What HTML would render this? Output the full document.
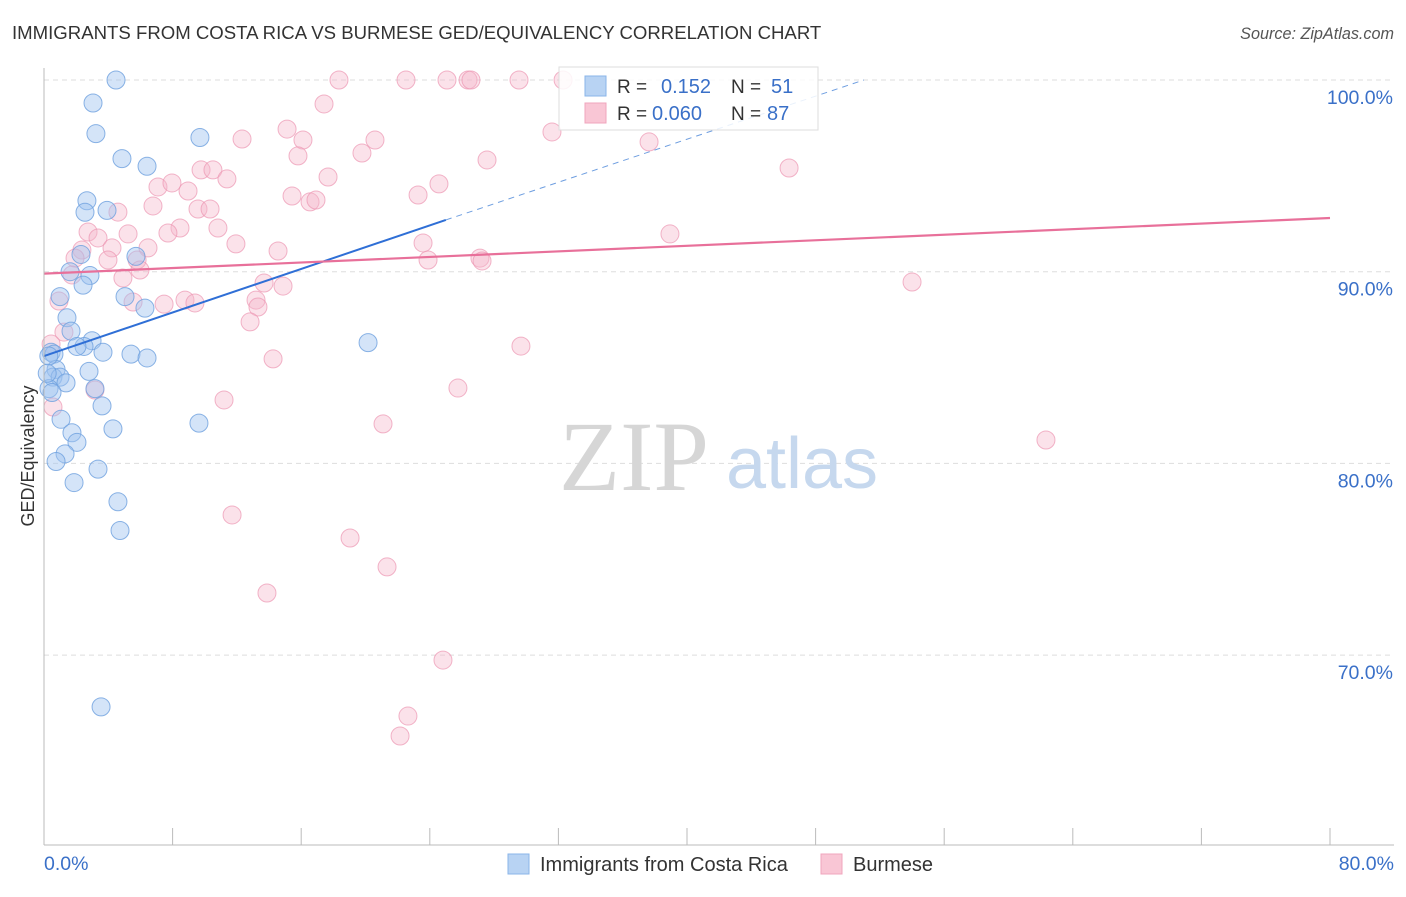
<!DOCTYPE html>
<html><head><meta charset="utf-8"><style>
body{margin:0;background:#fff;font-family:"Liberation Sans",sans-serif;}
svg text{font-family:"Liberation Sans",sans-serif;}
</style></head><body>
<svg id="chart" width="1406" height="892" xmlns="http://www.w3.org/2000/svg">
<text x="12" y="39" font-size="18.6" fill="#333">IMMIGRANTS FROM COSTA RICA VS BURMESE GED/EQUIVALENCY CORRELATION CHART</text>
<text x="1394" y="39" font-size="16.2" fill="#555" font-style="italic" text-anchor="end">Source: ZipAtlas.com</text>
<g id="grid"></g>
<text x="634" y="490" font-size="100" fill="#d6d6d6" style="font-family:'Liberation Serif',serif" text-anchor="middle">ZIP</text>
<text x="802" y="488" font-size="72" fill="#c6d8ee" text-anchor="middle">atlas</text>
<g id="pts"></g>
<g id="lines"></g>
<g id="axes"></g>
<text transform="translate(34,456) rotate(-90)" font-size="18" fill="#333" text-anchor="middle">GED/Equivalency</text>
<g>
<rect x="559" y="67" width="259" height="63" fill="rgba(255,255,255,0.85)" stroke="#ddd"/>
<rect x="585" y="76" width="21" height="20" fill="#b8d3f3" stroke="#8ab4e8"/>
<rect x="585" y="103" width="21" height="20" fill="#f9c6d5" stroke="#f0a5bd"/>
<text x="617" y="93" font-size="19" fill="#333">R = </text><text x="661" y="93" font-size="20" fill="#3a70c8">0.152</text>
<text x="731" y="93" font-size="19" fill="#333">N = </text><text x="771" y="93" font-size="20" fill="#3a70c8">51</text>
<text x="617" y="120" font-size="19" fill="#333">R = </text><text x="652" y="120" font-size="20" fill="#3a70c8">0.060</text>
<text x="731" y="120" font-size="19" fill="#333">N = </text><text x="767" y="120" font-size="20" fill="#3a70c8">87</text>
</g>
<g>
<rect x="508" y="854" width="21" height="20" fill="#b8d3f3" stroke="#8ab4e8"/>
<text x="540" y="871" font-size="20" fill="#333">Immigrants from Costa Rica</text>
<rect x="821" y="854" width="21" height="20" fill="#f9c6d5" stroke="#f0a5bd"/>
<text x="853" y="871" font-size="20" fill="#333">Burmese</text>
</g>
</svg>
<script>
const xTicks=[0,8,16,24,32,40,48,56,64,72,80];
const yTicks=[70,80,90,100];
const blueX=[4.48,3.05,3.23,9.70,4.85,6.41,2.67,2.55,3.92,5.72,2.30,1.62,2.86,2.43,1.00,5.04,6.28,1.43,1.68,2.99,2.49,2.05,3.67,5.41,6.41,0.44,0.62,0.75,2.80,0.56,1.00,1.37,0.31,20.16,3.17,3.61,1.06,4.29,1.74,2.05,1.31,0.75,3.36,1.87,4.60,4.73,9.64,3.55,0.3,0.2,0.5];
const blueY=[100.0,98.8,97.2,97.0,95.9,95.5,93.7,93.1,93.2,90.8,90.9,90.0,89.8,89.3,88.7,88.7,88.1,87.6,86.9,86.4,86.1,86.1,85.8,85.7,85.5,85.8,85.7,84.9,84.8,84.5,84.5,84.2,83.9,86.3,83.9,83.0,82.3,81.8,81.6,81.1,80.5,80.1,79.7,79.0,78.0,76.5,82.1,67.3,85.6,84.7,83.7];
const pinkX=[18.35,22.52,25.07,26.38,26.56,29.55,32.29,17.42,15.12,12.32,16.11,20.59,31.60,37.64,15.80,19.78,27.56,46.35,7.09,7.96,8.96,9.77,10.51,11.38,17.67,24.57,15.43,16.55,16.92,23.27,6.78,9.58,10.33,4.60,8.46,10.82,7.71,2.74,5.23,3.36,2.36,6.47,11.94,4.23,14.56,23.58,38.94,1.93,3.98,5.79,1.74,4.91,13.69,14.87,5.97,23.89,27.12,27.25,54.00,0.93,5.54,7.47,8.77,9.39,13.19,13.31,12.82,1.24,0.44,29.67,14.25,3.17,25.75,11.20,0.56,21.09,62.33,11.70,19.04,21.34,13.87,24.82,22.64,22.15];
const pinkY=[100,100,100,100,100,100,100,98.75,97.44,96.92,96.87,96.87,97.29,96.77,96.04,96.19,95.83,95.41,94.42,94.63,94.21,95.31,95.31,94.84,94.94,94.58,93.95,93.64,93.74,94.00,93.43,93.27,93.27,93.11,92.28,92.28,92.02,92.07,91.97,91.76,91.13,91.24,91.45,91.24,91.08,91.50,91.97,90.71,90.61,90.61,89.83,89.67,89.41,89.25,90.09,90.61,90.71,90.56,89.46,88.47,88.42,88.31,88.52,88.37,88.52,88.16,87.38,86.85,86.23,86.12,85.45,83.83,83.93,83.31,82.94,82.06,81.22,77.31,76.11,74.60,73.24,69.74,66.82,65.78];
const blueTrend=[[0,85.6],[25,92.7]];
const blueTrendDash=[[25,92.7],[51,100]];
const pinkTrend=[[0,89.9],[80,92.8]];
const X=v=>44+v*16.075;
const Y=v=>80+(100-v)*19.17;
const NS="http://www.w3.org/2000/svg";
function mk(tag,attrs,parent){const e=document.createElementNS(NS,tag);for(const k in attrs)e.setAttribute(k,attrs[k]);document.getElementById(parent).appendChild(e);return e;}
yTicks.forEach(t=>{
  const l=mk('line',{x1:44,x2:1394,y1:Y(t),y2:Y(t),stroke:'#ddd','stroke-dasharray':'5,4'},'grid');
  
  
  const tx=mk('text',{x:1393,y:Y(t)+24,'font-size':19.5,fill:'#3a70c8','text-anchor':'end'},'axes');
  tx.textContent=t.toFixed(1)+'%';
  
  
});
const ax=mk('line',{x1:44,x2:44,y1:68,y2:845,stroke:'#bbb'},'axes');


const bx=mk('line',{x1:44,x2:1394,y1:845,y2:845,stroke:'#bbb'},'axes');


xTicks.forEach(t=>{
  const l=mk('line',{x1:X(t),x2:X(t),y1:828,y2:845,stroke:'#bbb'},'axes');
  
  
});
[[0,'start',44],[80,'end',1394]].forEach(([v,a,px])=>{
  const tx=mk('text',{x:px,y:870,'font-size':19.5,fill:'#3a70c8','text-anchor':a},'axes');
  tx.textContent=v.toFixed(1)+'%';
  
  
});
pinkX.forEach((x,i)=>{
  const c=mk('circle',{cx:X(x),cy:Y(pinkY[i]),r:9,fill:'rgba(246,182,202,0.4)',stroke:'rgba(236,150,178,0.7)','stroke-width':1},'pts');
  
  
});
blueX.forEach((x,i)=>{
  const c=mk('circle',{cx:X(x),cy:Y(blueY[i]),r:9,fill:'rgba(160,196,240,0.45)',stroke:'rgba(110,160,222,0.8)','stroke-width':1},'pts');
  
  
});
const bl=mk('line',{x1:X(blueTrend[0][0]),y1:Y(blueTrend[0][1]),x2:X(blueTrend[1][0]),y2:Y(blueTrend[1][1]),stroke:'#2f6fd6','stroke-width':2},'lines');


const bd=mk('line',{x1:X(blueTrendDash[0][0]),y1:Y(blueTrendDash[0][1]),x2:X(blueTrendDash[1][0]),y2:Y(blueTrendDash[1][1]),stroke:'#6e9ee0','stroke-width':1,'stroke-dasharray':'6,5'},'lines');


const pl=mk('line',{x1:X(pinkTrend[0][0]),y1:Y(pinkTrend[0][1]),x2:X(pinkTrend[1][0]),y2:Y(pinkTrend[1][1]),stroke:'#e8709a','stroke-width':2.2},'lines');


</script>
</body></html>
